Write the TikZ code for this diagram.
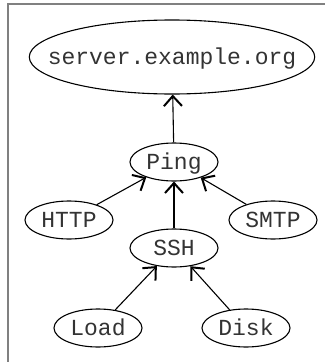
\documentclass[tikz,border=0pt]{standalone}
\usepackage{fontspec}
\setmonofont{Liberation Mono}
\usetikzlibrary{shapes.geometric,arrows.meta}

\tikzset{
  svc/.style={draw, ellipse, inner xsep=0pt, inner ysep=0pt, line width=1.1pt,
    text height=14pt, text depth=0pt,
    minimum width=88pt, minimum height=38pt, text=black!80,
    font=\ttfamily\fontsize{23}{27}\selectfont},
  host/.style={svc, inner xsep=-23.3pt, minimum width=0pt, minimum height=74pt},
  dep/.style={line width=1.1pt, -{Straight Barb[length=10pt,width=18pt,line width=2pt]}}
}

\begin{document}
\begin{tikzpicture}[x=1pt,y=-1pt]
  \useasboundingbox (0,0) rectangle (325,362);
  % frame
  \draw [black!50, line width=2pt] (8,362) -- (8,4) -- (325,4);
  % hosts and services
  \node [host] (server) at (172,57) {server.example.org};
  \node [svc] (ping) at (174,162) {Ping};
  \node [svc] (http) at (69,220) {HTTP};
  \node [svc] (smtp) at (273,220) {SMTP};
  \node [svc] (ssh) at (174,248) {SSH};
  \node [svc] (load) at (98,328) {Load};
  \node [svc] (disk) at (246,328) {Disk};
  % dependencies
  \draw [dep] (ping) -- (server);
  \draw [dep] (http) -- (ping);
  \draw [dep] (smtp) -- (ping);
  \draw [dep] (ssh) -- (ping);
  \draw [dep] (load) -- (ssh);
  \draw [dep] (disk) -- (ssh);
\end{tikzpicture}
\end{document}
